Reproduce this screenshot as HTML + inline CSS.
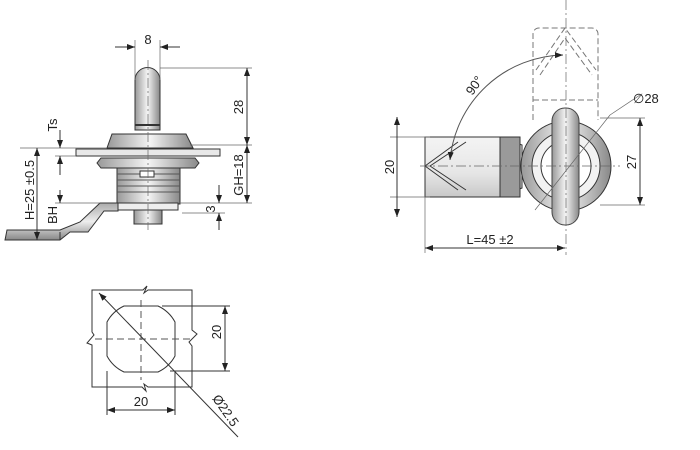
<!DOCTYPE html>
<html><head><meta charset="utf-8"><style>body{margin:0;background:#fff}svg{display:block}text{font-family:"Liberation Sans",sans-serif;font-size:13px;fill:#222}</style></head><body>
<svg width="700" height="450" viewBox="0 0 700 450" xmlns="http://www.w3.org/2000/svg">
<defs>
<linearGradient id="g" x1="0" x2="1"><stop offset="0" stop-color="#999"/><stop offset=".5" stop-color="#f4f4f4"/><stop offset="1" stop-color="#888"/></linearGradient>
<linearGradient id="gv" x1="0" y1="0" x2="0" y2="1"><stop offset="0" stop-color="#aaa"/><stop offset=".5" stop-color="#eee"/><stop offset="1" stop-color="#888"/></linearGradient>
<linearGradient id="gc" x1="0" y1="0" x2="0" y2="1"><stop offset="0" stop-color="#f4f4f4"/><stop offset=".6" stop-color="#e6e6e6"/><stop offset="1" stop-color="#c8c8c8"/></linearGradient>
<marker id="a" markerWidth="8" markerHeight="6" refX="8" refY="3" orient="auto-start-reverse"><path d="M0,0L8,3L0,6z" fill="#222"/></marker>
</defs>
<g stroke="#333" stroke-width="1" fill="none">
<!-- LEFT VIEW -->
<path d="M135,130V80a12.5,12.5 0 0 1 25,0V130z" fill="url(#g)"/>
<line x1="135" y1="125" x2="160" y2="125" stroke-width="2"/>
<path d="M112,134H186L193,148H107z" fill="url(#g)"/>
<rect x="76" y="149" width="144" height="7" fill="#e8e8e8"/>
<path d="M101,158H195L199,163L195,168H101L97,163z" fill="url(#g)"/>
<rect x="117" y="168" width="63" height="36" fill="url(#g)"/>
<g stroke="#555"><line x1="117" y1="174" x2="180" y2="174"/><line x1="117" y1="180" x2="180" y2="180"/><line x1="117" y1="186" x2="180" y2="186"/><line x1="117" y1="192" x2="180" y2="192"/></g>
<rect x="140" y="171" width="14" height="6" fill="#fff"/>
<path d="M118,203H178V210H118z" fill="#eee"/>
<path d="M100,203H118V211H104L88,232H70L60,240H5L7,230H60L80,222z" fill="url(#gv)"/>
<rect x="134" y="210" width="28" height="14" fill="url(#g)"/>
<g stroke="#666" stroke-width=".7">
<line x1="148" y1="60" x2="148" y2="230" stroke-dasharray="10,3,2,3"/>
<line x1="135" y1="40" x2="135" y2="80"/><line x1="160" y1="40" x2="160" y2="80"/>
<line x1="160" y1="68" x2="252" y2="68"/><line x1="190" y1="145" x2="252" y2="145"/><line x1="180" y1="203" x2="252" y2="203"/>
<line x1="182" y1="213" x2="225" y2="213"/>
<line x1="20" y1="148" x2="107" y2="148"/><line x1="55" y1="156" x2="76" y2="156"/>
<line x1="55" y1="203" x2="100" y2="203"/>
</g>
<line x1="115" y1="47" x2="135" y2="47" marker-end="url(#a)"/><line x1="180" y1="47" x2="160" y2="47" marker-end="url(#a)"/>
<line x1="247" y1="68" x2="247" y2="145" marker-start="url(#a)" marker-end="url(#a)"/>
<line x1="247" y1="145" x2="247" y2="203" marker-start="url(#a)" marker-end="url(#a)"/>
<line x1="219" y1="185" x2="219" y2="203" marker-end="url(#a)"/><line x1="219" y1="230" x2="219" y2="213" marker-end="url(#a)"/>
<line x1="37" y1="148" x2="37" y2="240" marker-start="url(#a)" marker-end="url(#a)"/>
<line x1="60" y1="130" x2="60" y2="148" marker-end="url(#a)"/><line x1="60" y1="175" x2="60" y2="156" marker-end="url(#a)"/>
<line x1="60" y1="190" x2="60" y2="203" marker-end="url(#a)"/><line x1="60" y1="240" x2="60" y2="232"/>
<!-- RIGHT VIEW -->
<g stroke="#777" stroke-dasharray="6,3">
<path d="M533,120V34a6,6 0 0 1 6,-6H592a6,6 0 0 1 6,6V120"/>
<line x1="533" y1="100" x2="598" y2="100"/>
<path d="M536,70L565,28L596,70M540,75L565,38L592,75"/>
</g>
<path d="M425,137H500L522,145V188L500,197H425z" fill="url(#gc)"/>
<rect x="500" y="137" width="20" height="60" fill="#9a9a9a"/>
<path d="M425,166L458,142M425,166L458,190M430,166L466,142M430,166L466,190"/>
<circle cx="566" cy="166" r="45" fill="url(#g)"/>
<circle cx="566" cy="166" r="34" fill="#f2f2f2"/>
<circle cx="566" cy="166" r="25" fill="#fff"/>
<rect x="552" y="108" width="27" height="117" rx="13" fill="url(#g)" stroke="#444"/>
<g stroke="#666" stroke-width=".7">
<line x1="566" y1="0" x2="566" y2="255" stroke-dasharray="10,3,2,3"/>
<line x1="420" y1="166" x2="620" y2="166" stroke-dasharray="10,3,2,3"/>
<line x1="390" y1="137" x2="430" y2="137"/><line x1="390" y1="197" x2="430" y2="197"/>
<line x1="600" y1="118" x2="645" y2="118"/><line x1="600" y1="205" x2="645" y2="205"/>
<line x1="425" y1="197" x2="425" y2="253"/>
<line x1="535" y1="210" x2="610" y2="115"/><line x1="610" y1="115" x2="640" y2="95"/>
</g>
<line x1="397" y1="117" x2="397" y2="217" marker-start="url(#a)" marker-end="url(#a)"/>
<line x1="640" y1="118" x2="640" y2="205" marker-start="url(#a)" marker-end="url(#a)"/>
<line x1="425" y1="248" x2="565" y2="248" marker-start="url(#a)" marker-end="url(#a)"/>
<path d="M450,160A116,116 0 0 1 563,55" stroke="#555" marker-start="url(#a)" marker-end="url(#a)"/>
<!-- BOTTOM VIEW -->
<path d="M92,290H143L147,286L144,293L148,290H192V330L197,334L189,342L192,346V387H148L144,384L146,391L142,387H92V345L87,343L94,335L92,332z"/>
<path d="M124,306H158A37,37 0 0 1 175,322V356A37,37 0 0 1 158,372H124A37,37 0 0 1 107,356V322A37,37 0 0 1 124,306z"/>
<g stroke="#555" stroke-dasharray="7,4"><line x1="141" y1="300" x2="141" y2="380"/><line x1="95" y1="339" x2="190" y2="339"/></g>
<line x1="99" y1="293" x2="238" y2="437" marker-start="url(#a)"/>
<line x1="162" y1="306" x2="230" y2="306"/><line x1="170" y1="371" x2="230" y2="371"/>
<line x1="107" y1="371" x2="107" y2="415"/><line x1="175" y1="371" x2="175" y2="415"/>
<line x1="225" y1="306" x2="225" y2="371" marker-start="url(#a)" marker-end="url(#a)"/>
<line x1="107" y1="410" x2="175" y2="410" marker-start="url(#a)" marker-end="url(#a)"/>
</g>
<text x="148" y="44" text-anchor="middle">8</text>
<text transform="translate(243,107) rotate(-90)" text-anchor="middle">28</text>
<text transform="translate(243,175) rotate(-90)" text-anchor="middle">GH=18</text>
<text transform="translate(215,209) rotate(-90)" text-anchor="middle">3</text>
<text transform="translate(34,190) rotate(-90)" text-anchor="middle">H=25 ±0.5</text>
<text transform="translate(57,125) rotate(-90)" text-anchor="middle">Ts</text>
<text transform="translate(57,215) rotate(-90)" text-anchor="middle">BH</text>
<text transform="translate(394,167) rotate(-90)" text-anchor="middle">20</text>
<text transform="translate(636,162) rotate(-90)" text-anchor="middle">27</text>
<text x="490" y="244" text-anchor="middle">L=45 ±2</text>
<text transform="translate(478,88) rotate(-55)" text-anchor="middle">90°</text>
<text x="633" y="103">∅28</text>
<text transform="translate(221,332) rotate(-90)" text-anchor="middle">20</text>
<text x="141" y="406" text-anchor="middle">20</text>
<text transform="translate(222,413) rotate(55)" text-anchor="middle">Ø22.5</text>
</svg>
</body></html>
